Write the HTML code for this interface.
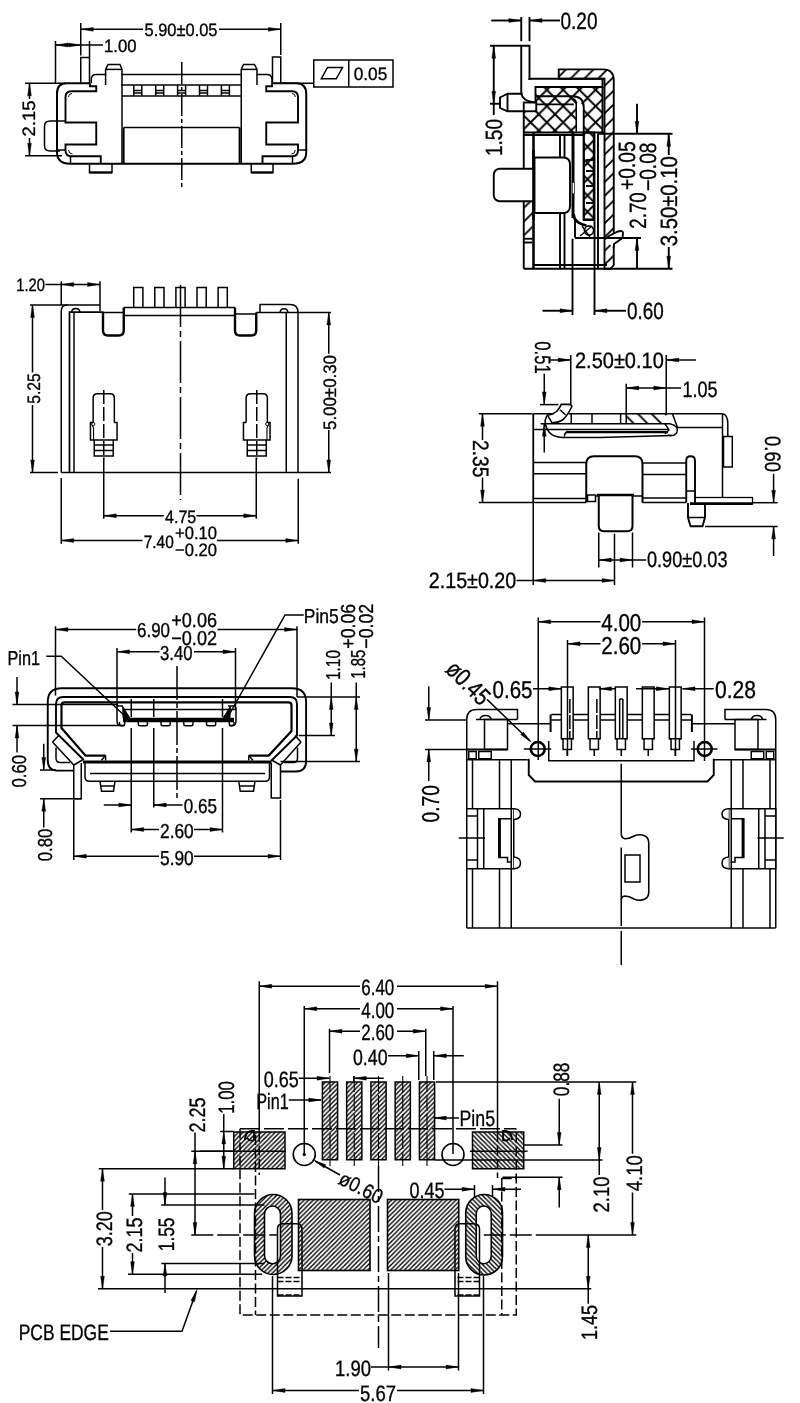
<!DOCTYPE html>
<html><head><meta charset="utf-8"><title>Micro USB connector drawing</title>
<style>
html,body{margin:0;padding:0;background:#fff;overflow:hidden}
svg{display:block}
svg *{vector-effect:none}
.g{font-size:18px;fill:none;stroke:#000;stroke-width:1.5;stroke-linecap:butt;stroke-linejoin:miter}
.g text{text-rendering:geometricPrecision;fill:#000;stroke:#000;stroke-width:.35;font-family:"Liberation Sans",sans-serif}
.g .a{fill:#000;stroke:#000;stroke-width:.4}
</style></head><body>
<svg width="800" height="1403" viewBox="0 0 800 1403">
<defs>
<pattern id="h1" width="13.75" height="13.75" patternUnits="userSpaceOnUse" patternTransform="translate(3 0)"><path d="M-1,14.75 L14.75,-1 M-1,1 L1,-1 M12.75,14.75 L14.75,12.75" stroke="#000" stroke-width="1.9" fill="none"/></pattern>
<pattern id="h1b" width="13.75" height="13.75" patternUnits="userSpaceOnUse" patternTransform="translate(4 0)"><path d="M-1,-1 L14.75,14.75 M-1,12.75 L1,14.75 M12.75,-1 L14.75,1" stroke="#000" stroke-width="1.9" fill="none"/></pattern>
<pattern id="h2" width="16.25" height="16.25" patternUnits="userSpaceOnUse" patternTransform="translate(2.5 0.5)"><path d="M-1,17.25 L17.25,-1 M-1,-1 L17.25,17.25" stroke="#000" stroke-width="1.9" fill="none"/></pattern>

<pattern id="h3" width="4.6" height="4.6" patternUnits="userSpaceOnUse"><path d="M-1,5.6 L5.6,-1 M-1,1 L1,-1 M3.6,5.6 L5.6,3.6" stroke="#000" stroke-width="1.4" fill="none"/></pattern>
<pattern id="h3b" width="4.6" height="4.6" patternUnits="userSpaceOnUse"><path d="M-1,-1 L5.6,5.6 M-1,3.6 L1,5.6 M3.6,-1 L5.6,1" stroke="#000" stroke-width="1.4" fill="none"/></pattern>
</defs>
<rect width="800" height="1403" fill="#fff"/>
<g class="g" opacity="0.999">
<polyline points="80.75,23 80.75,55.6"/>
<polyline points="280.75,23 280.75,55"/>
<polyline points="81,29.3 143,29.3"/>
<polyline points="219,29.3 280.5,29.3"/>
<polygon class="a" points="80.75,29.3 93.25,27.40 93.25,31.20"/>
<polygon class="a" points="280.75,29.3 268.25,31.20 268.25,27.40"/>
<text x="144.5" y="35.5" textLength="73" lengthAdjust="spacingAndGlyphs">5.90±0.05</text>
<polyline points="55.5,41 55.5,83"/>
<polyline points="89.5,41 89.5,57"/>
<polyline points="55.5,45 103,45"/>
<polygon class="a" points="55.5,45 68.00,43.10 68.00,46.90"/>
<polygon class="a" points="81,45 68.50,46.90 68.50,43.10"/>
<text x="104" y="51.7" textLength="32.5" lengthAdjust="spacingAndGlyphs">1.00</text>
<polyline points="25,83.25 66,83.25"/>
<polyline points="25,155.75 62,155.75"/>
<polyline points="29.5,83.25 29.5,99"/>
<polyline points="29.5,138 29.5,155.75"/>
<polygon class="a" points="29.5,83.25 31.40,95.75 27.60,95.75"/>
<polygon class="a" points="29.5,155.75 27.60,143.25 31.40,143.25"/>
<text transform="translate(35 136.5) rotate(-90)" textLength="36" lengthAdjust="spacingAndGlyphs">2.15</text>
<polyline points="80.75,83.25 80.75,57.5 89.5,57.5 89.5,83.25"/>
<polyline points="272.5,83.25 272.5,57 280.75,57 280.75,83.25"/>
<path d="M90,83.25 H67 Q57,83.25 57,93.25 V152 Q57,163.75 70,163.75 H293 Q306.25,163.75 306.25,152 V94 Q306.25,83.25 296,83.25 H272" stroke-width="2"/>
<path d="M90,83.25 V86.25 H96.25 V91.25 H71.5 Q65.5,91.25 65.5,97 V122.5 H96.25 V144.5 H65.5 V150.5 Q65.5,156.25 71.5,156.25 H100.75 V163.75" stroke-width="1.9"/>
<path d="M68.5,97 Q68.5,93.5 72,93.5 M68.5,150 Q69,154 72.5,154" stroke-width="1"/>
<polyline points="57,150 65.5,150"/>
<polyline points="70.5,156.25 70.5,163.75"/>
<path d="M65.5,121 H50 Q44.5,121 44.5,126.5 V145.5 Q44.5,151 50,151 H60"/>
<path d="M91.25,83.25 V79.5 Q91.25,74.5 96.25,74.5 H106.25 M121.25,74.5 H241.75 M256.5,74.5 H267 Q272,74.5 272,79.5 V83.25"/>
<polyline points="105.6,85 105.6,69.4 108,64.5 120,64.5 122,69.4 122,85"/>
<polyline points="105.6,69.4 122,69.4"/>
<polyline points="241.25,85 241.25,69.4 243.5,64.5 254.5,64.5 257,69.4 257,85"/>
<polyline points="241.25,69.4 257,69.4"/>
<polyline points="121.25,85 241.75,85"/>
<polyline points="122,96 241.25,96"/>
<polyline points="122,85 122,163.75"/>
<polyline points="241.25,85 241.25,163.75"/>
<polyline points="123.6,127.5 123.6,163.75" stroke-width="2"/>
<polyline points="239.6,127.5 239.6,163.75" stroke-width="2"/>
<polyline points="123.6,127.5 239.6,127.5"/>
<polyline points="133.8,85 133.8,95.75"/>
<polyline points="141.8,85 141.8,95.75"/>
<polyline points="133.8,90.5 141.8,90.5"/>
<polyline points="133.8,93 141.8,93"/>
<polyline points="155.7,85 155.7,95.75"/>
<polyline points="163.7,85 163.7,95.75"/>
<polyline points="155.7,90.5 163.7,90.5"/>
<polyline points="155.7,93 163.7,93"/>
<polyline points="177.6,85 177.6,95.75"/>
<polyline points="185.6,85 185.6,95.75"/>
<polyline points="177.6,90.5 185.6,90.5"/>
<polyline points="177.6,93 185.6,93"/>
<polyline points="199.5,85 199.5,95.75"/>
<polyline points="207.5,85 207.5,95.75"/>
<polyline points="199.5,90.5 207.5,90.5"/>
<polyline points="199.5,93 207.5,93"/>
<polyline points="221.4,85 221.4,95.75"/>
<polyline points="229.4,85 229.4,95.75"/>
<polyline points="221.4,90.5 229.4,90.5"/>
<polyline points="221.4,93 229.4,93"/>
<path d="M272,83.25 V86.25 H266.25 V91.25 H292 Q298,91.25 298,97 V122.5 H266.25 V144.5 H298 V150.5 Q298,156.25 292,156.25 H262.5 V163.75" stroke-width="1.9"/>
<path d="M295.3,97 Q295.3,93.5 292,93.5 M295.3,150 Q295,154 291.5,154" stroke-width="1"/>
<polyline points="298,150 306.25,150"/>
<polyline points="292.5,156.25 292.5,163.75"/>
<polyline points="89.5,163.75 89.5,172.5 112,172.5 112,163.75"/>
<polyline points="89.5,172.5 112,172.5" stroke-width="2.2"/>
<polyline points="251.25,163.75 251.25,172.5 273,172.5 273,163.75"/>
<polyline points="251.25,172.5 273,172.5" stroke-width="2.2"/>
<polyline points="181.75,62 181.75,188" stroke-dasharray="22 3 4 3"/>
<polyline points="280.75,83.25 313.75,83.25"/>
<rect x="313.75" y="60" width="79.25" height="27"/>
<polyline points="348.75,60 348.75,87"/>
<polygon points="321.25,78.75 327.5,67.5 342.5,67.5 336.25,78.75"/>
<text x="353.75" y="80" textLength="33.5" lengthAdjust="spacingAndGlyphs">0.05</text>
<g stroke-width="1.9">
<polyline points="521.25,17 521.25,41.25"/>
<polyline points="529.5,17 529.5,41.25"/>
<polyline points="491.25,20.5 521.25,20.5"/>
<polyline points="529.5,20.5 560,20.5"/>
<polygon class="a" points="521.25,20.5 508.75,22.40 508.75,18.60"/>
<polygon class="a" points="529.5,20.5 542.00,18.60 542.00,22.40"/>
<text x="560.5" y="28.7" font-size="23.5" textLength="37" lengthAdjust="spacingAndGlyphs">0.20</text>
<polyline points="490,45.75 521.25,45.75"/>
<polyline points="490,103.75 501,103.75"/>
<polyline points="493.75,45.75 493.75,115"/>
<polygon class="a" points="493.75,45.75 495.65,58.25 491.85,58.25"/>
<polygon class="a" points="493.75,103.75 491.85,91.25 495.65,91.25"/>
<text transform="translate(502.2 156) rotate(-90)" font-size="23.5" textLength="37" lengthAdjust="spacingAndGlyphs">1.50</text>
<path d="M521.25,94 V45.75 H529.5 V80"/>
<path d="M521.25,93 Q522,101 535,102.5"/>
<polyline points="522.5,93.75 507.5,93.75 500,97.5 500,108 507.5,111.25 523.75,111.25"/>
<polyline points="507.5,93.75 507.5,111.25"/>
<rect x="523.75" y="102.5" width="12.5" height="8.75"/>
<path d="M558.75,78.75 V69.4 H603 Q613.75,69.4 613.75,80 V265 L610.5,268.75 H604.5 V78.75 Z" fill="url(#h1)"/>
<polyline points="529.5,80 529.5,78.75 604.5,78.75" stroke-width="2"/>
<polyline points="535.5,102.5 535.5,87 602.5,87 602.5,78.75"/>
<path d="M535.5,87 H602.5 V132.5 H523.75 V111.25 H535.5 Z" stroke-width="0.01" fill="url(#h2)"/>
<path d="M576.25,104 Q581,100 583.75,108 V132.5 H576.25 Z" stroke-width="0.01" fill="#fff"/>
<path d="M536,96.25 H572.5 Q583.75,96.25 583.75,107.5 V220"/>
<path d="M536,104.4 H573.75 M573,98.75 Q576.25,99.5 576.25,104 V132.5" stroke-width="1.6"/>
<polyline points="523.75,111.25 523.75,268.75"/>
<polyline points="523.75,132.5 603.75,132.5"/>
<polyline points="523.75,135 585,135"/>
<polyline points="602.5,87 602.5,132.5"/>
<path d="M583.75,132.5 H593.75 V220 H583.75 Z" fill="url(#h2)"/>
<polyline points="586,160 593.75,160"/>
<polyline points="586,171 593.75,171"/>
<polyline points="586,186 593.75,186"/>
<polyline points="586,203 593.75,203"/>
<polyline points="533.5,132.5 533.5,268.75" stroke-width="2.6"/>
<polyline points="560,135 560,157.5"/>
<polyline points="564.5,135 564.5,157.5"/>
<polyline points="560,213 560,268.75"/>
<polyline points="564.5,213 564.5,268.75"/>
<polyline points="573,132.5 573,218" stroke-width="3"/>
<rect x="572.2" y="182.5" width="2.4" height="11.25" stroke-width="0.6" fill="#fff"/>
<path d="M573.5,214 Q574,223 586.5,225.5" stroke-width="2.8"/>
<polyline points="575,220 575,237.5"/>
<polyline points="584,219.4 594,219.4"/>
<circle cx="589" cy="230.5" r="4.6" stroke-width="1.6"/>
<path d="M582,226 L590,237 M580,236 L592,226" stroke-width="1.3"/>
<polyline points="594.5,133.75 594.5,315"/>
<polyline points="598,133.75 598,268.75"/>
<path d="M523.75,201 H532.5 V238.75 H523.75 Z" stroke-width="0.01" fill="url(#h1)"/>
<polyline points="523.75,238.75 532.5,238.75"/>
<polyline points="523.75,242.5 532.5,242.5"/>
<rect x="493.75" y="168.75" width="46.25" height="32.5" rx="6" fill="#fff"/>
<path d="M534.5,157.5 H563 Q570,157.5 570,164.5 V206 Q570,213 563,213 H534.5 Z" fill="#fff"/>
<polyline points="533.5,150 533.5,220" stroke-width="2.6"/>
<polyline points="523.75,268.75 610,268.75"/>
<polyline points="533.5,265 607,265"/>
<path d="M604.5,239.5 L609,236 L618,231.5 Q623,230 623,233 L622.5,238 L614,244 L613.5,248" fill="#fff"/>
<polyline points="598,133.75 672.5,133.75"/>
<polyline points="637,103.75 637,133.75"/>
<polygon class="a" points="637,133.75 635.10,121.25 638.90,121.25"/>
<polyline points="575,238 641,238"/>
<polyline points="637,238 637,268.75"/>
<polygon class="a" points="637,238 638.90,250.50 635.10,250.50"/>
<polyline points="610,268.75 672.5,268.75"/>
<polyline points="668.75,133.75 668.75,155"/>
<polygon class="a" points="668.75,133.75 670.65,146.25 666.85,146.25"/>
<polyline points="668.75,247 668.75,268.75"/>
<polygon class="a" points="668.75,268.75 666.85,256.25 670.65,256.25"/>
<text transform="translate(677.2 246.25) rotate(-90)" font-size="23.5" textLength="90" lengthAdjust="spacingAndGlyphs">3.50±0.10</text>
<text transform="translate(646.2 228.75) rotate(-90)" font-size="23.5" textLength="36.5" lengthAdjust="spacingAndGlyphs">2.70</text>
<text transform="translate(634.95 190) rotate(-90)" font-size="23.5" textLength="48.75" lengthAdjust="spacingAndGlyphs">+0.05</text>
<text transform="translate(656.2 191) rotate(-90)" font-size="23.5" textLength="48.5" lengthAdjust="spacingAndGlyphs">−0.08</text>
<polyline points="572.5,238.75 572.5,315"/>
<polyline points="542.5,310.75 572.5,310.75"/>
<polygon class="a" points="572.5,310.75 560.00,312.65 560.00,308.85"/>
<polyline points="594.5,310.75 626,310.75"/>
<polygon class="a" points="594.5,310.75 607.00,308.85 607.00,312.65"/>
<text x="627" y="319.2" font-size="23.5" textLength="36.75" lengthAdjust="spacingAndGlyphs">0.60</text>
</g>
<text x="16.25" y="291.25" textLength="28.75" lengthAdjust="spacingAndGlyphs">1.20</text>
<polyline points="45.5,284.5 100,284.5"/>
<polygon class="a" points="61.25,284.5 73.75,282.60 73.75,286.40"/>
<polygon class="a" points="100,284.5 87.50,286.40 87.50,282.60"/>
<polyline points="61.25,281.25 61.25,305"/>
<polyline points="100,281.25 100,311.25"/>
<polyline points="30,305 67.5,305"/>
<polyline points="32.5,305 32.5,372.5"/>
<polyline points="32.5,405 32.5,472.5"/>
<polygon class="a" points="32.5,305 34.40,317.50 30.60,317.50"/>
<polygon class="a" points="32.5,472.5 30.60,460.00 34.40,460.00"/>
<text transform="translate(40 403.75) rotate(-90)" textLength="30.5" lengthAdjust="spacingAndGlyphs">5.25</text>
<path d="M100,305 H67.5 Q61.25,305 61.25,311 V472.5"/>
<polyline points="69.5,472.5 69.5,312.2 103.5,312.2" stroke-width="1.8"/>
<path d="M71.5,312.2 Q72,308.5 75.75,308.5 Q79.5,308.5 80,312.2"/>
<polyline points="74,472.5 74,312.5"/>
<path d="M103,312.5 V330.5 Q103,335.5 108,335.5 H118.75 Q123.75,335.5 123.75,330.5 V307.5" stroke-width="2.4"/>
<polyline points="123.75,307.5 235,307.5"/>
<polyline points="103,312.5 123.75,312.5"/>
<polyline points="235,314 256.25,314"/>
<polyline points="124.5,315.5 235,315.5"/>
<path d="M235,307.5 V330.5 Q235,335.5 240,335.5 H251.25 Q256.25,335.5 256.25,330.5 V312.5" stroke-width="2.4"/>
<polyline points="256.25,312.5 331,312.5"/>
<path d="M260,312.5 V304.5 H290 Q298,304.5 298,312.5 V472.5"/>
<path d="M280,312.5 Q280.5,308.75 284,308.75 Q287.5,308.75 288,312.5"/>
<polyline points="286.25,312.5 286.25,472.5"/>
<polyline points="133.7,307.5 133.7,287.5 142.9,287.5 142.9,307.5"/>
<polyline points="154.8,307.5 154.8,287.5 164,287.5 164,307.5"/>
<polyline points="175.9,307.5 175.9,287.5 185.1,287.5 185.1,307.5"/>
<polyline points="197,307.5 197,287.5 206.2,287.5 206.2,307.5"/>
<polyline points="218.1,307.5 218.1,287.5 227.3,287.5 227.3,307.5"/>
<polyline points="180.5,285 180.5,500" stroke-dasharray="42 4 6 4"/>
<polyline points="30,472.5 58,472.5"/>
<polyline points="61.25,472.5 331,472.5"/>
<path d="M93.15,422.5 V398 Q93.15,393.75 97.35,393.75 H110.15 Q114.35,393.75 114.35,398 V422.5"/>
<polyline points="93.15,422.5 90.45,422.5 90.45,440 117.05,440 117.05,422.5 114.35,422.5"/>
<polyline points="94.25,440 94.25,456 113.25,456 113.25,440"/>
<polyline points="94.25,445 113.25,445"/>
<polyline points="94.25,450.5 113.25,450.5"/>
<polyline points="103.75,390 103.75,459" stroke-dasharray="14 3"/>
<polyline points="93.55,440 93.55,428 92.05,425" stroke-width="1.1"/>
<circle cx="93.25" cy="424" r="1.6" stroke-width="1"/>
<path d="M246.15,422.5 V398 Q246.15,393.75 250.35,393.75 H263.15 Q267.35,393.75 267.35,398 V422.5"/>
<polyline points="246.15,422.5 243.45,422.5 243.45,440 270.05,440 270.05,422.5 267.35,422.5"/>
<polyline points="247.25,440 247.25,456 266.25,456 266.25,440"/>
<polyline points="247.25,445 266.25,445"/>
<polyline points="247.25,450.5 266.25,450.5"/>
<polyline points="256.75,390 256.75,459" stroke-dasharray="14 3"/>
<polyline points="266.95,440 266.95,428 268.45,425" stroke-width="1.1"/>
<circle cx="267.25" cy="424" r="1.6" stroke-width="1"/>
<polyline points="103.75,457.5 103.75,518.75"/>
<polyline points="256.25,457.5 256.25,518.75"/>
<polyline points="103.75,515.75 163.75,515.75"/>
<polyline points="196.5,515.75 256.25,515.75"/>
<polygon class="a" points="103.75,515.75 116.25,513.85 116.25,517.65"/>
<polygon class="a" points="256.25,515.75 243.75,517.65 243.75,513.85"/>
<text x="165" y="522.5" textLength="31.25" lengthAdjust="spacingAndGlyphs">4.75</text>
<polyline points="61.25,478 61.25,543.75"/>
<polyline points="298.25,478.75 298.25,543.75"/>
<polyline points="61.25,540.5 142.5,540.5"/>
<polyline points="217,540.5 298.25,540.5"/>
<polygon class="a" points="61.25,540.5 73.75,538.60 73.75,542.40"/>
<polygon class="a" points="298.25,540.5 285.75,542.40 285.75,538.60"/>
<text x="143.75" y="547.5" textLength="30" lengthAdjust="spacingAndGlyphs">7.40</text>
<text x="175" y="538.75" textLength="42" lengthAdjust="spacingAndGlyphs">+0.10</text>
<text x="175" y="555.5" textLength="42" lengthAdjust="spacingAndGlyphs">−0.20</text>
<polyline points="328.75,312.5 328.75,353.75"/>
<polyline points="328.75,430 328.75,472.5"/>
<polygon class="a" points="328.75,312.5 330.65,325.00 326.85,325.00"/>
<polygon class="a" points="328.75,472.5 326.85,460.00 330.65,460.00"/>
<text transform="translate(336 430) rotate(-90)" textLength="75" lengthAdjust="spacingAndGlyphs">5.00±0.30</text>
<text transform="translate(535.2 341.25) rotate(90)" font-size="22.3" textLength="32.5" lengthAdjust="spacingAndGlyphs">0.51</text>
<polyline points="544.25,373.75 544.25,403.75"/>
<polygon class="a" points="544.25,404.4 542.35,391.90 546.15,391.90"/>
<polyline points="544.25,423.75 544.25,452.5"/>
<polygon class="a" points="544.25,423.75 546.15,436.25 542.35,436.25"/>
<polyline points="540,404.6 558.5,404.6"/>
<polyline points="570.75,355 570.75,405"/>
<polyline points="550,360 570.75,360"/>
<polygon class="a" points="570.75,360 558.25,361.90 558.25,358.10"/>
<text x="575" y="367.8" font-size="22.3" textLength="88.75" lengthAdjust="spacingAndGlyphs">2.50±0.10</text>
<polyline points="666.25,355 666.25,415"/>
<polyline points="666.25,360 696,360"/>
<polygon class="a" points="666.25,360 678.75,358.10 678.75,361.90"/>
<polyline points="626.25,383.75 626.25,413.75"/>
<polyline points="626.25,388 681,388"/>
<polygon class="a" points="626.25,388 638.75,386.10 638.75,389.90"/>
<polygon class="a" points="666.25,388 653.75,389.90 653.75,386.10"/>
<text x="682.5" y="396.55" font-size="22.3" textLength="35" lengthAdjust="spacingAndGlyphs">1.05</text>
<polyline points="478.75,413.75 532.5,413.75"/>
<polyline points="478.75,502.5 533,502.5"/>
<polyline points="482.5,413.75 482.5,440"/>
<polyline points="482.5,477.5 482.5,502.5"/>
<polygon class="a" points="482.5,413.75 484.40,426.25 480.60,426.25"/>
<polygon class="a" points="482.5,502.5 480.60,490.00 484.40,490.00"/>
<text transform="translate(472.7 440) rotate(90)" font-size="22.3" textLength="37.5" lengthAdjust="spacingAndGlyphs">2.35</text>
<polyline points="533.25,413.75 533.25,502.5" stroke-width="1.8"/>
<polyline points="533.25,502.5 533.25,585"/>
<polyline points="533.25,413.75 553.5,413.75"/>
<polyline points="568.5,413.75 722.5,413.75"/>
<path d="M722.5,413.75 Q727.8,414.5 727.8,424 V436.5"/>
<polyline points="722.5,413.75 722.5,497.5"/>
<rect x="723.5" y="436.5" width="8.8" height="30.5"/>
<polyline points="540.6,423.75 670,423.75"/>
<polyline points="571.25,413.75 571.25,423.75"/>
<polyline points="592,413.75 592,423.75"/>
<polyline points="620.6,413.75 620.6,423.75"/>
<polyline points="626.25,413.75 626.25,423.75"/>
<path d="M626.25,413.75 H666.25 V423.75 H626.25 Z" fill="url(#h1b)" stroke="none"/>
<path d="M561.25,404.4 Q559.5,408.5 556.5,411.5 Q553,414.5 547.5,415.2 L552,422.8 Q558,423 562.5,420 Q567,416.5 571.9,406.5 Q571.5,404.4 568.5,404.4 Z" stroke-width="1.6"/>
<polyline points="560,409.7 565.6,415"/>
<path d="M546.9,415.6 Q544.5,420 545.3,423.75 Q546,428 549,432 Q553,437 562.5,437.5 H600 L672,435.5" stroke-width="1.6"/>
<polyline points="533.25,429.4 668,429.4"/>
<polyline points="566,432.2 668,432.2" stroke-width="2.2"/>
<path d="M568,431.3 Q564.5,432.5 564.4,436.5"/>
<path d="M670,423.75 Q679,426 677,432 Q675,437 668,435"/>
<path d="M672.5,414 L677.5,427.5 H722.5"/>
<path d="M665,423.75 L669,430 L665,434"/>
<polyline points="533.25,462.5 586.25,462.5"/>
<polyline points="533.25,473.75 586.25,473.75"/>
<polyline points="533.25,498.5 586.25,498.5"/>
<polyline points="533.25,502.5 586.25,502.5"/>
<path d="M586.25,502.5 V464 Q586.25,456.25 594,456.25 H635 Q642.5,456.25 642.5,464 V502.5" stroke-width="2" fill="#fff"/>
<rect x="587.5" y="495" width="8" height="6.5"/>
<polyline points="642.5,463 686.25,463"/>
<polyline points="642.5,474.5 686.25,474.5"/>
<polyline points="642.5,498 686.25,498"/>
<polyline points="642.5,502.5 686.25,502.5"/>
<polyline points="596,496 642,496"/>
<path d="M686.25,502.5 V460.5 Q686.25,456.25 690.5,456.25 Q695,456.25 695,460.5 V502.5" stroke-width="1.9"/>
<polyline points="686.25,491 695,491"/>
<rect x="695" y="497.5" width="57.5" height="6.5" stroke-width="1.3"/>
<polyline points="690,503.6 752.5,503.6" stroke-width="2.6"/>
<path d="M598.75,495 V526 Q598.75,531.25 604,531.25 H627 Q632.5,531.25 632.5,526 V495" stroke-width="2" fill="#fff"/>
<polyline points="597,495 634,495" stroke-width="2.4"/>
<polyline points="688,503 688,517.5 690.5,526.25 702.5,526.25 705,517.5 705,503" stroke-width="1.9"/>
<polyline points="688,517.5 705,517.5"/>
<polyline points="752.5,502.7 777.7,502.7"/>
<polyline points="705,526.4 777.7,526.4"/>
<polyline points="773.6,473.8 773.6,502.7"/>
<polygon class="a" points="773.6,502.7 771.70,490.20 775.50,490.20"/>
<polyline points="773.6,526.4 773.6,556"/>
<polygon class="a" points="773.6,526.4 775.50,538.90 771.70,538.90"/>
<text transform="translate(765.2 436) rotate(90)" font-size="22.3" textLength="36" lengthAdjust="spacingAndGlyphs">0.60</text>
<polyline points="598.75,532.5 598.75,567.5"/>
<polyline points="632.5,532.5 632.5,567.5"/>
<polyline points="598.75,560 646.25,560"/>
<polygon class="a" points="598.75,560 611.25,558.10 611.25,561.90"/>
<polygon class="a" points="632.5,560 620.00,561.90 620.00,558.10"/>
<text x="647" y="567.3" font-size="22.3" textLength="80.5" lengthAdjust="spacingAndGlyphs">0.90±0.03</text>
<text x="428.75" y="588.3" font-size="22.3" textLength="87.5" lengthAdjust="spacingAndGlyphs">2.15±0.20</text>
<polyline points="516.5,580.5 613.75,580.5"/>
<polygon class="a" points="533.25,580.5 545.75,578.60 545.75,582.40"/>
<polygon class="a" points="614.5,580.5 602.00,582.40 602.00,578.60"/>
<polyline points="614.5,533.75 614.5,585"/>
<polyline points="55.5,626.25 55.5,695.6"/>
<polyline points="297,626.25 297,697"/>
<polyline points="55.5,629.5 136.25,629.5"/>
<polyline points="217.5,629.5 297,629.5"/>
<polygon class="a" points="55.5,629.5 68.00,627.60 68.00,631.40"/>
<polygon class="a" points="297,629.5 284.50,631.40 284.50,627.60"/>
<text x="137" y="637.05" font-size="20.2" textLength="33" lengthAdjust="spacingAndGlyphs">6.90</text>
<text x="171.25" y="627.05" font-size="20.2" textLength="45.75" lengthAdjust="spacingAndGlyphs">+0.06</text>
<text x="171.25" y="645.3" font-size="20.2" textLength="45.75" lengthAdjust="spacingAndGlyphs">−0.02</text>
<polyline points="117,648 117,706"/>
<polyline points="235.5,648 235.5,710"/>
<polyline points="117,651.75 159.5,651.75"/>
<polyline points="194,651.75 235.5,651.75"/>
<polygon class="a" points="117,651.75 129.50,649.85 129.50,653.65"/>
<polygon class="a" points="235.5,651.75 223.00,653.65 223.00,649.85"/>
<text x="160" y="659.55" font-size="20.2" textLength="32.5" lengthAdjust="spacingAndGlyphs">3.40</text>
<text x="7.5" y="665.3" font-size="20.2" textLength="32.5" lengthAdjust="spacingAndGlyphs">Pin1</text>
<polyline points="46.25,656.25 61.25,656.25 127,718"/>
<text x="303.75" y="623.3" font-size="20.2" textLength="35" lengthAdjust="spacingAndGlyphs">Pin5</text>
<polyline points="303.75,615 285,615 226.25,720"/>
<polyline points="17,677 17,704.4"/>
<polygon class="a" points="17,704.4 15.10,691.90 18.90,691.90"/>
<polyline points="12.5,704.4 118,704.4"/>
<polyline points="12.5,725.6 123,725.6"/>
<polyline points="17,725.6 17,752.5"/>
<polygon class="a" points="17,725.6 18.90,738.10 15.10,738.10"/>
<text transform="translate(25.8 787.5) rotate(-90)" font-size="20.2" textLength="32.5" lengthAdjust="spacingAndGlyphs">0.60</text>
<polyline points="43.75,743.75 43.75,770"/>
<polygon class="a" points="43.75,770 41.85,757.50 45.65,757.50"/>
<polyline points="40,770 56,770"/>
<polyline points="40,798.75 81.25,798.75"/>
<polyline points="43.75,798.75 43.75,827.5"/>
<polygon class="a" points="43.75,798.75 45.65,811.25 41.85,811.25"/>
<text transform="translate(52.05 861.25) rotate(-90)" font-size="20.2" textLength="32.5" lengthAdjust="spacingAndGlyphs">0.80</text>
<path d="M73.75,770.6 H57 Q47.75,770.6 47.75,760 V702 Q47.75,688.3 61.5,688.3 H292 Q306.1,688.3 306.1,702 V761 Q306.1,771.5 296,771.5 H280.5" stroke-width="1.9"/>
<path d="M83.75,760 L56,732.5 V704 Q56,697 63,697 H290 Q297,697 297,704 V735.5 L271,761" stroke-width="1.9"/>
<path d="M105.6,755.6 H85.6 L61.5,728 V705.5 Q61.5,702.4 64.5,702.4 H288.5 Q291.5,702.4 291.5,705.5 V731 L268.75,755.6 H248.75" stroke-width="2.2"/>
<polyline points="52.5,742 73.75,765"/>
<polyline points="52.5,742 58.75,735.5"/>
<polyline points="73.75,765 82.5,760"/>
<polyline points="301,742 280.5,765"/>
<polyline points="301,742 295,735.5"/>
<polyline points="280.5,765 271.5,760"/>
<polyline points="105.6,755.6 105.6,760.5"/>
<polyline points="105.6,755.6 101.25,760.5"/>
<polyline points="248.75,755.6 248.75,760.5"/>
<polyline points="248.75,755.6 253,760.5"/>
<path d="M56,747.5 V758 Q56,762.5 60,762.5 H70"/>
<path d="M297.5,747.5 V758 Q297.5,762.5 293.5,762.5 H284"/>
<polyline points="83,762 271.5,762" stroke-width="3"/>
<path d="M85,763 V777 Q85,781.25 89.5,781.25 H265 Q269.5,781.25 269.5,777 V763"/>
<polyline points="90,773.5 265,773.5"/>
<polyline points="100,781.25 101.5,791.25 113.5,791.25 115,781.25"/>
<polyline points="101,786 114,786"/>
<polyline points="238.75,781.25 240.25,791.25 253.5,791.25 255,781.25"/>
<polyline points="240,786 254,786"/>
<polyline points="73.75,765 73.75,798.75 81.25,798.75 81.25,763"/>
<polyline points="271.25,763 271.25,798 280.5,798 280.5,765"/>
<path d="M123,706 H117 V721 Q117,725.6 121,725.6 H124"/>
<path d="M122.5,706 L130,718 H123 Z" stroke-width="0.8" fill="#000"/>
<path d="M230.5,706 L223,718 H230 Z" stroke-width="0.8" fill="#000"/>
<polyline points="123,709.4 236,709.4"/>
<polyline points="123,720 234,720" stroke-width="4.6"/>
<path d="M236,707.5 V721 Q236,725.6 232,725.6 H229"/>
<polyline points="228,706 236,706"/>
<path d="M119.5,722 V724 Q119.5,725.8 121.3,725.8 H122.925 Q124.725,725.8 124.725,724 V722" stroke-width="1.4"/>
<path d="M138.275,722 V724 Q138.275,725.8 140.075,725.8 H145.675 Q147.475,725.8 147.475,724 V722" stroke-width="1.4"/>
<path d="M161.025,722 V724 Q161.025,725.8 162.825,725.8 H168.425 Q170.225,725.8 170.225,724 V722" stroke-width="1.4"/>
<path d="M183.775,722 V724 Q183.775,725.8 185.575,725.8 H191.175 Q192.975,725.8 192.975,724 V722" stroke-width="1.4"/>
<path d="M206.525,722 V724 Q206.525,725.8 208.325,725.8 H213.925 Q215.725,725.8 215.725,724 V722" stroke-width="1.4"/>
<path d="M229.275,722 V724 Q229.275,725.8 231.075,725.8 H232.2 Q234,725.8 234,724 V722" stroke-width="1.4"/>
<polyline points="131.25,699 131.25,717"/>
<polyline points="131.25,728 131.25,832.5"/>
<polyline points="222.5,699 222.5,717"/>
<polyline points="222.5,728 222.5,832.5"/>
<polyline points="153.75,699 153.75,717"/>
<polyline points="153.75,728 153.75,807.5"/>
<polyline points="177,666 177,800" stroke-dasharray="34 3 5 3"/>
<polyline points="297,697 360,697"/>
<polyline points="298.75,735.5 335,735.5"/>
<polyline points="331.25,682.5 331.25,735.5"/>
<polygon class="a" points="331.25,697 333.15,709.50 329.35,709.50"/>
<polygon class="a" points="331.25,735.5 329.35,723.00 333.15,723.00"/>
<text transform="translate(339.55 680) rotate(-90)" font-size="20.2" textLength="30" lengthAdjust="spacingAndGlyphs">1.10</text>
<polyline points="280.5,761.5 360,761.5"/>
<polyline points="356.25,682.5 356.25,761.5"/>
<polygon class="a" points="356.25,697 358.15,709.50 354.35,709.50"/>
<polygon class="a" points="356.25,761.5 354.35,749.00 358.15,749.00"/>
<text transform="translate(364.55 678.75) rotate(-90)" font-size="20.2" textLength="29" lengthAdjust="spacingAndGlyphs">1.85</text>
<text transform="translate(354.55 648.75) rotate(-90)" font-size="20.2" textLength="45" lengthAdjust="spacingAndGlyphs">+0.06</text>
<text transform="translate(372.8 648.75) rotate(-90)" font-size="20.2" textLength="45" lengthAdjust="spacingAndGlyphs">−0.02</text>
<polyline points="103.75,805 131.25,805"/>
<polygon class="a" points="131.25,805 118.75,806.90 118.75,803.10"/>
<polyline points="153.75,805 182.5,805"/>
<polygon class="a" points="153.75,805 166.25,803.10 166.25,806.90"/>
<text x="183.75" y="812.8" font-size="20.2" textLength="33.25" lengthAdjust="spacingAndGlyphs">0.65</text>
<polyline points="131.25,829.5 159,829.5"/>
<polyline points="194,829.5 222.5,829.5"/>
<polygon class="a" points="131.25,829.5 143.75,827.60 143.75,831.40"/>
<polygon class="a" points="222.5,829.5 210.00,831.40 210.00,827.60"/>
<text x="160" y="837.8" font-size="20.2" textLength="33.75" lengthAdjust="spacingAndGlyphs">2.60</text>
<polyline points="73.75,800 73.75,860"/>
<polyline points="280.5,800 280.5,860"/>
<polyline points="73.75,856.25 159,856.25"/>
<polyline points="194,856.25 280.5,856.25"/>
<polygon class="a" points="73.75,856.25 86.25,854.35 86.25,858.15"/>
<polygon class="a" points="280.5,856.25 268.00,858.15 268.00,854.35"/>
<text x="160" y="864.55" font-size="20.2" textLength="33.75" lengthAdjust="spacingAndGlyphs">5.90</text>
<polyline points="538.25,617.5 538.25,760"/>
<polyline points="704.5,617.5 704.5,761"/>
<polyline points="538.25,621.75 600.5,621.75"/>
<polyline points="642,621.75 704.5,621.75"/>
<polygon class="a" points="538.25,621.75 550.75,619.85 550.75,623.65"/>
<polygon class="a" points="704.5,621.75 692.00,623.65 692.00,619.85"/>
<text x="601.25" y="630.5" font-size="24.5" textLength="40" lengthAdjust="spacingAndGlyphs">4.00</text>
<polyline points="567.5,640 567.5,756"/>
<polyline points="675.5,640 675.5,756"/>
<polyline points="567.5,643.75 600.5,643.75"/>
<polyline points="642,643.75 675.5,643.75"/>
<polygon class="a" points="567.5,643.75 580.00,641.85 580.00,645.65"/>
<polygon class="a" points="675.5,643.75 663.00,645.65 663.00,641.85"/>
<text x="601.25" y="653.5" font-size="24.5" textLength="40" lengthAdjust="spacingAndGlyphs">2.60</text>
<text x="492.5" y="698" font-size="24.5" textLength="40" lengthAdjust="spacingAndGlyphs">0.65</text>
<polyline points="533,688.75 561.25,688.75"/>
<polygon class="a" points="561.25,688.75 548.75,690.65 548.75,686.85"/>
<polygon class="a" points="599,688.75 611.50,686.85 611.50,690.65"/>
<polyline points="599,688.75 615.5,688.75"/>
<polyline points="636,688.75 668.75,688.75"/>
<polygon class="a" points="668.75,688.75 656.25,690.65 656.25,686.85"/>
<polygon class="a" points="682.5,688.75 695.00,686.85 695.00,690.65"/>
<polyline points="682.5,688.75 713.75,688.75"/>
<text x="715" y="698" font-size="24.5" textLength="41" lengthAdjust="spacingAndGlyphs">0.28</text>
<text transform="translate(444.293 670.707) rotate(45)" font-size="24.5" textLength="51" lengthAdjust="spacingAndGlyphs">ø0.45</text>
<polyline points="487,699.4 530,741"/>
<polygon class="a" points="531,742 520.69,734.68 523.33,731.95"/>
<circle cx="537.75" cy="749" r="7" stroke-width="2.6"/>
<circle cx="704.75" cy="749" r="7" stroke-width="2.6"/>
<polyline points="523.75,749 551.25,749"/>
<polyline points="691,749 717.5,749"/>
<polygon points="563.05,749.5 563.05,738.75 561.35,738.75 561.35,687 573.15,687 573.15,738.75 571.45,738.75 571.45,749.5"/>
<polyline points="561.35,738.75 573.15,738.75"/>
<polyline points="569.85,699 569.85,738" stroke-dasharray="14 2"/>
<polyline points="567.25,749.5 567.25,756"/>
<polygon points="590.05,749.5 590.05,738.75 588.35,738.75 588.35,687 600.15,687 600.15,738.75 598.45,738.75 598.45,749.5"/>
<polyline points="588.35,738.75 600.15,738.75"/>
<polyline points="596.85,699 596.85,738" stroke-dasharray="14 2"/>
<polyline points="594.25,749.5 594.25,756"/>
<polygon points="617.05,749.5 617.05,738.75 615.35,738.75 615.35,687 627.15,687 627.15,738.75 625.45,738.75 625.45,749.5"/>
<polyline points="615.35,738.75 627.15,738.75"/>
<polyline points="619.65,699 619.65,738"/>
<polyline points="622.85,699 622.85,738"/>
<polyline points="619.65,699 622.85,699"/>
<polyline points="621.25,749.5 621.25,756"/>
<polygon points="644.05,749.5 644.05,738.75 642.35,738.75 642.35,687 654.15,687 654.15,738.75 652.45,738.75 652.45,749.5"/>
<polyline points="642.35,738.75 654.15,738.75"/>
<polyline points="648.25,749.5 648.25,756"/>
<polygon points="671.05,749.5 671.05,738.75 669.35,738.75 669.35,687 681.15,687 681.15,738.75 679.45,738.75 679.45,749.5"/>
<polyline points="669.35,738.75 681.15,738.75"/>
<polyline points="675.25,749.5 675.25,756"/>
<polyline points="551.25,714.5 561.35,714.5"/>
<polyline points="573.15,714.5 588.35,714.5"/>
<polyline points="600.15,714.5 615.35,714.5"/>
<polyline points="627.15,714.5 642.35,714.5"/>
<polyline points="654.15,714.5 669.35,714.5"/>
<polyline points="681.15,714.5 691.25,714.5"/>
<polyline points="551.25,720 561.35,720"/>
<polyline points="573.15,720 588.35,720"/>
<polyline points="600.15,720 615.35,720"/>
<polyline points="627.15,720 642.35,720"/>
<polyline points="654.15,720 669.35,720"/>
<polyline points="681.15,720 691.25,720"/>
<polyline points="550.6,714.5 550.6,732" stroke-width="2"/>
<polyline points="691.9,714.5 691.9,732" stroke-width="2"/>
<polyline points="548.75,754 548.75,760.75 694,760.75 694,741"/>
<polyline points="548.75,741 548.75,754"/>
<polyline points="507.5,723.75 550,723.75"/>
<polyline points="692.5,723.75 735,723.75"/>
<path d="M466.75,928 V719.5 Q466.75,709.5 476.75,709.5 H517.5 V719.5"/>
<polyline points="476,719.5 517.5,719.5"/>
<rect x="484.5" y="719.5" width="23" height="30"/>
<path d="M480,719.5 Q480.5,715.5 485.5,715.5 Q490.5,715.5 491,719.5"/>
<polyline points="466.75,749.5 507.5,749.5" stroke-width="1.8"/>
<rect x="468.75" y="751.5" width="7.5" height="7.25"/>
<rect x="478.75" y="751.5" width="12.5" height="7.25"/>
<polyline points="466.75,759.75 527.5,759.75"/>
<path d="M527.5,759.75 H528.75 V775 L535,781.5 H621.25" stroke-width="1.9"/>
<polyline points="472.5,759.75 472.5,928"/>
<polyline points="499.5,759.75 499.5,928"/>
<polyline points="511.25,759.75 511.25,928"/>
<rect x="466.75" y="808.75" width="47" height="60" fill="#fff"/>
<path d="M513.75,808.75 Q520.5,809 520.5,814 Q520.5,819 513.75,819.5" fill="#fff"/>
<path d="M513.75,857 Q520.5,857.5 520.5,863 Q520.5,868.5 513.75,868.75" fill="#fff"/>
<polyline points="477.5,808.75 477.5,868.75"/>
<polyline points="483.75,808.75 483.75,868.75"/>
<polyline points="466.75,816 477.5,816"/>
<polyline points="466.75,860 477.5,860"/>
<polyline points="511.25,808.75 511.25,862 507.5,862 507.5,857.5 498.75,857.5 498.75,818.75 511.25,818.75"/>
<polyline points="499.6,818.75 499.6,857.5" stroke-width="2.6"/>
<polyline points="511.25,862 511.25,868.75"/>
<polyline points="458.75,838 485,838"/>
<path d="M775.75,928 V719.5 Q775.75,709.5 765.75,709.5 H725.0 V719.5"/>
<polyline points="766.5,719.5 725,719.5"/>
<rect x="735" y="719.5" width="23" height="30"/>
<path d="M762.5,719.5 Q762.0,715.5 757.0,715.5 Q752.0,715.5 751.5,719.5"/>
<polyline points="775.75,749.5 735,749.5" stroke-width="1.8"/>
<rect x="766.25" y="751.5" width="7.5" height="7.25"/>
<rect x="751.25" y="751.5" width="12.5" height="7.25"/>
<polyline points="775.75,759.75 715,759.75"/>
<path d="M715.0,759.75 H713.75 V775 L707.5,781.5 H621.25" stroke-width="1.9"/>
<polyline points="770,759.75 770,928"/>
<polyline points="743,759.75 743,928"/>
<polyline points="731.25,759.75 731.25,928"/>
<rect x="728.75" y="808.75" width="47" height="60" fill="#fff"/>
<path d="M728.75,808.75 Q722.0,809 722.0,814 Q722.0,819 728.75,819.5" fill="#fff"/>
<path d="M728.75,857 Q722.0,857.5 722.0,863 Q722.0,868.5 728.75,868.75" fill="#fff"/>
<polyline points="765,808.75 765,868.75"/>
<polyline points="758.75,808.75 758.75,868.75"/>
<polyline points="775.75,816 765,816"/>
<polyline points="775.75,860 765,860"/>
<polyline points="731.25,808.75 731.25,862 735,862 735,857.5 743.75,857.5 743.75,818.75 731.25,818.75"/>
<polyline points="742.9,818.75 742.9,857.5" stroke-width="2.6"/>
<polyline points="731.25,862 731.25,868.75"/>
<polyline points="783.75,838 757.5,838"/>
<polyline points="425,720 466.75,720"/>
<polyline points="425,749.5 466.75,749.5"/>
<polyline points="428.75,686.25 428.75,720"/>
<polygon class="a" points="428.75,720 426.85,707.50 430.65,707.50"/>
<polyline points="428.75,749.5 428.75,781"/>
<polygon class="a" points="428.75,749.5 430.65,762.00 426.85,762.00"/>
<text transform="translate(438.5 822.5) rotate(-90)" font-size="24.5" textLength="37.5" lengthAdjust="spacingAndGlyphs">0.70</text>
<polyline points="466.75,928 775.75,928"/>
<polyline points="621.25,763.75 621.25,833.75"/>
<path d="M621.25,833.75 Q621.25,838 625,838.75 Q629,839 634,836 Q640,833.5 645,836 Q648.75,838 648.75,843 V892 Q648.75,897 645,899 Q640,901.5 634,899 Q629,896 625,896 Q621.25,896.5 621.25,900" stroke-width="1.6"/>
<polyline points="621.25,847.5 621.25,926"/>
<polyline points="621.25,931 621.25,965"/>
<rect x="625" y="855" width="15" height="27"/>
<polyline points="259.25,981.25 259.25,1132"/>
<polyline points="497.5,981.25 497.5,1132"/>
<polyline points="259.25,986.25 360,986.25"/>
<polyline points="397,986.25 497.5,986.25"/>
<polygon class="a" points="259.25,986.25 271.75,984.35 271.75,988.15"/>
<polygon class="a" points="497.5,986.25 485.00,988.15 485.00,984.35"/>
<text x="361.25" y="994.5" font-size="22.3" textLength="33" lengthAdjust="spacingAndGlyphs">6.40</text>
<polyline points="304.25,1006 304.25,1154"/>
<polyline points="453,1006 453,1154"/>
<polyline points="304.25,1008.75 360,1008.75"/>
<polyline points="397,1008.75 453,1008.75"/>
<polygon class="a" points="304.25,1008.75 316.75,1006.85 316.75,1010.65"/>
<polygon class="a" points="453,1008.75 440.50,1010.65 440.50,1006.85"/>
<text x="361.25" y="1017.5" font-size="22.3" textLength="33" lengthAdjust="spacingAndGlyphs">4.00</text>
<polyline points="329.5,1028.75 329.5,1073"/>
<polyline points="425.75,1028.75 425.75,1076"/>
<polyline points="329.5,1031.25 360,1031.25"/>
<polyline points="397,1031.25 425.75,1031.25"/>
<polygon class="a" points="329.5,1031.25 342.00,1029.35 342.00,1033.15"/>
<polygon class="a" points="425.75,1031.25 413.25,1033.15 413.25,1029.35"/>
<text x="361.25" y="1040.25" font-size="22.3" textLength="33" lengthAdjust="spacingAndGlyphs">2.60</text>
<text x="353" y="1064.5" font-size="22.3" textLength="34.5" lengthAdjust="spacingAndGlyphs">0.40</text>
<polyline points="388,1055.75 418.75,1055.75"/>
<polygon class="a" points="418.75,1055.75 406.25,1057.65 406.25,1053.85"/>
<polyline points="418.75,1051 418.75,1080"/>
<polyline points="433.75,1051 433.75,1080"/>
<polygon class="a" points="433.75,1055.75 446.25,1053.85 446.25,1057.65"/>
<polyline points="433.75,1055.75 463.75,1055.75"/>
<text x="263.75" y="1087" font-size="22.3" textLength="35" lengthAdjust="spacingAndGlyphs">0.65</text>
<polyline points="298.75,1078.25 329.5,1078.25"/>
<polygon class="a" points="329.5,1078.25 317.00,1080.15 317.00,1076.35"/>
<polygon class="a" points="353.75,1078.25 366.25,1076.35 366.25,1080.15"/>
<polyline points="353.75,1078.25 383.75,1078.25"/>
<polyline points="353.75,1076 353.75,1082"/>
<text x="256.25" y="1109" font-size="22.3" textLength="32.5" lengthAdjust="spacingAndGlyphs">Pin1</text>
<polyline points="288.75,1100 321.25,1100"/>
<polygon class="a" points="321.25,1100 308.75,1101.90 308.75,1098.10"/>
<text x="459.5" y="1126" font-size="22.3" textLength="35.5" lengthAdjust="spacingAndGlyphs">Pin5</text>
<polyline points="433.75,1118 459,1118"/>
<polygon class="a" points="433.75,1118 446.25,1116.10 446.25,1119.90"/>
<rect x="322.4" y="1082" width="15.2" height="77.75" fill="url(#h3)"/>
<polyline points="330,1076 330,1166" stroke-width="1.1" stroke-dasharray="16 3"/>
<rect x="346.65" y="1082" width="15.2" height="77.75" fill="url(#h3)"/>
<polyline points="354.25,1076 354.25,1166" stroke-width="1.1" stroke-dasharray="16 3"/>
<rect x="370.9" y="1082" width="15.2" height="77.75" fill="url(#h3)"/>
<polyline points="378.5,1076 378.5,1166" stroke-width="1.1" stroke-dasharray="16 3"/>
<rect x="395.15" y="1082" width="15.2" height="77.75" fill="url(#h3)"/>
<polyline points="402.75,1076 402.75,1166" stroke-width="1.1" stroke-dasharray="16 3"/>
<rect x="419.4" y="1082" width="15.2" height="77.75" fill="url(#h3)"/>
<polyline points="427,1076 427,1166" stroke-width="1.1" stroke-dasharray="16 3"/>
<polyline points="378.5,1166 378.5,1348" stroke-dasharray="26 4 6 4"/>
<polyline points="240,1128.75 516.25,1128.75" stroke-dasharray="20 4"/>
<rect x="233.75" y="1132" width="51.25" height="36.75" fill="url(#h3)"/>
<rect x="472.5" y="1132" width="51.25" height="36.75" fill="url(#h3b)"/>
<polyline points="259.25,1132 259.25,1175" stroke-dasharray="10 3.5"/>
<polyline points="497.5,1132 497.5,1178" stroke-dasharray="10 3.5"/>
<path d="M245,1140 Q245,1130 254,1131 V1140 Q250,1142 247,1138" stroke-width="1.8"/>
<path d="M512,1140 Q512,1130 503,1131 V1140 Q507,1142 510,1138" stroke-width="1.8"/>
<polyline points="200,1151.25 286,1151.25"/>
<polyline points="470,1151.25 527.5,1151.25"/>
<circle cx="304.25" cy="1154.5" r="11" stroke-width="1.6"/>
<circle cx="453" cy="1154.5" r="11" stroke-width="1.6"/>
<circle cx="304.25" cy="1154.5" r="0.9" fill="#000"/>
<polyline points="315,1161 340,1175"/>
<polygon class="a" points="314,1160.3 325.85,1164.70 324.01,1168.02"/>
<text transform="translate(337.319 1183.34) rotate(27)" font-size="20.5" textLength="46" lengthAdjust="spacingAndGlyphs">ø0.60</text>
<path d="M254.5,1213.25 A18.75,18.75 0 0 1 292,1213.25 V1255.75 A18.75,18.75 0 0 1 254.5,1255.75 Z M264.5,1214.0 V1255.75 A8.0,8.0 0 0 0 280.5,1255.75 V1214.0 A8.0,8.0 0 0 0 264.5,1214.0 Z" stroke-width="1.6" fill="url(#h3)" fill-rule="evenodd"/>
<path d="M465.75,1212.875 A18.375,18.375 0 0 1 502.5,1212.875 V1256.625 A18.375,18.375 0 0 1 465.75,1256.625 Z M476.25,1213.5 V1256.25 A7.5,7.5 0 0 0 491.25,1256.25 V1213.5 A7.5,7.5 0 0 0 476.25,1213.5 Z" stroke-width="1.6" fill="url(#h3b)" fill-rule="evenodd"/>
<rect x="298.5" y="1199.5" width="71.5" height="71" stroke-width="1.6" fill="url(#h3)"/>
<rect x="387.5" y="1199.5" width="71.25" height="71" stroke-width="1.6" fill="url(#h3)"/>
<path d="M277.5,1296 V1229 Q277.5,1223.75 283,1223.75 H297 Q302,1223.75 302,1229 V1296 Z"/>
<polyline points="277.5,1277.5 302,1277.5" stroke-dasharray="6 2"/>
<polyline points="277.5,1281.5 302,1281.5" stroke-dasharray="6 2"/>
<polyline points="277.5,1295 302,1295" stroke-dasharray="6 2"/>
<path d="M479.5,1296 V1229 Q479.5,1223.75 474.0,1223.75 H460.0 Q455.0,1223.75 455.0,1229 V1296 Z"/>
<polyline points="479.5,1277.5 455,1277.5" stroke-dasharray="6 2"/>
<polyline points="479.5,1281.5 455,1281.5" stroke-dasharray="6 2"/>
<polyline points="479.5,1295 455,1295" stroke-dasharray="6 2"/>
<polyline points="240,1128.75 240,1315 516.25,1315 516.25,1128.75" stroke-dasharray="10 3.5"/>
<polyline points="255.5,1135 255.5,1315" stroke-dasharray="10 3.5"/>
<polyline points="501.75,1178 501.75,1315" stroke-dasharray="10 3.5"/>
<polyline points="501.75,1178.5 516.25,1178.5" stroke-dasharray="10 3.5"/>
<text transform="translate(233.5 1113.75) rotate(-90)" font-size="22.3" textLength="32.5" lengthAdjust="spacingAndGlyphs">1.00</text>
<polyline points="223.75,1114 223.75,1168.75"/>
<polygon class="a" points="223.75,1131.5 225.65,1144.00 221.85,1144.00"/>
<polygon class="a" points="223.75,1168.75 221.85,1156.25 225.65,1156.25"/>
<polyline points="220,1131.5 233.75,1131.5"/>
<text transform="translate(205.25 1132.5) rotate(-90)" font-size="22.3" textLength="35" lengthAdjust="spacingAndGlyphs">2.25</text>
<polyline points="195,1132.5 195,1235"/>
<polygon class="a" points="195,1151.25 196.90,1163.75 193.10,1163.75"/>
<polygon class="a" points="195,1235 193.10,1222.50 196.90,1222.50"/>
<polyline points="191.25,1151.25 233.75,1151.25"/>
<polyline points="191.25,1235 277,1235" stroke-dasharray="22 4"/>
<polyline points="98.75,1168.75 233.75,1168.75"/>
<polyline points="102.5,1168.75 102.5,1210"/>
<polyline points="102.5,1247 102.5,1288.75"/>
<polygon class="a" points="102.5,1168.75 104.40,1181.25 100.60,1181.25"/>
<polygon class="a" points="102.5,1288.75 100.60,1276.25 104.40,1276.25"/>
<text transform="translate(111.5 1246.25) rotate(-90)" font-size="22.3" textLength="35" lengthAdjust="spacingAndGlyphs">3.20</text>
<polyline points="128.75,1194 254.5,1194"/>
<polyline points="128,1274.25 262,1274.25"/>
<polyline points="132.5,1194 132.5,1216"/>
<polyline points="132.5,1253 132.5,1274.25"/>
<polygon class="a" points="132.5,1194 134.40,1206.50 130.60,1206.50"/>
<polygon class="a" points="132.5,1274.25 130.60,1261.75 134.40,1261.75"/>
<text transform="translate(141.5 1252.5) rotate(-90)" font-size="22.3" textLength="35" lengthAdjust="spacingAndGlyphs">2.15</text>
<polyline points="161.25,1205 264.5,1205"/>
<polyline points="161.25,1263.5 264.5,1263.5"/>
<polyline points="165,1177.5 165,1205"/>
<polygon class="a" points="165,1205 163.10,1192.50 166.90,1192.50"/>
<polyline points="165,1263.5 165,1293"/>
<polygon class="a" points="165,1263.5 166.90,1276.00 163.10,1276.00"/>
<text transform="translate(174 1251.25) rotate(-90)" font-size="22.3" textLength="33.75" lengthAdjust="spacingAndGlyphs">1.55</text>
<polyline points="98,1288.75 591.25,1288.75"/>
<text x="18.75" y="1340.25" font-size="22.3" textLength="90" lengthAdjust="spacingAndGlyphs">PCB EDGE</text>
<polyline points="110,1331.25 182,1331.25 196.5,1291"/>
<polygon class="a" points="197,1289.5 194.51,1301.90 190.94,1300.60"/>
<polyline points="436,1082 636.25,1082"/>
<text transform="translate(568.5 1096.25) rotate(-90)" font-size="22.3" textLength="33.75" lengthAdjust="spacingAndGlyphs">0.88</text>
<polyline points="559.25,1098.75 559.25,1145"/>
<polygon class="a" points="559.25,1145 557.35,1132.50 561.15,1132.50"/>
<polyline points="523.75,1145 562.5,1145"/>
<polyline points="502.5,1177.25 562.5,1177.25"/>
<polyline points="559.25,1177.25 559.25,1207.5"/>
<polygon class="a" points="559.25,1177.25 561.15,1189.75 557.35,1189.75"/>
<polyline points="435,1160 602.5,1160"/>
<polyline points="599.25,1082 599.25,1175"/>
<polygon class="a" points="599.25,1082 601.15,1094.50 597.35,1094.50"/>
<polygon class="a" points="599.25,1160 597.35,1147.50 601.15,1147.50"/>
<text transform="translate(609 1212.5) rotate(-90)" font-size="22.3" textLength="36" lengthAdjust="spacingAndGlyphs">2.10</text>
<polyline points="632.5,1082 632.5,1153.75"/>
<polyline points="632.5,1192.5 632.5,1235"/>
<polygon class="a" points="632.5,1082 634.40,1094.50 630.60,1094.50"/>
<polygon class="a" points="632.5,1235 630.60,1222.50 634.40,1222.50"/>
<text transform="translate(641.5 1191.25) rotate(-90)" font-size="22.3" textLength="36" lengthAdjust="spacingAndGlyphs">4.10</text>
<polyline points="483.75,1235 541,1235" stroke-dasharray="22 4"/>
<polyline points="541,1235 636.25,1235"/>
<polyline points="588.25,1235 588.25,1303.75"/>
<polygon class="a" points="588.25,1235 590.15,1247.50 586.35,1247.50"/>
<polygon class="a" points="588.25,1288.75 586.35,1276.25 590.15,1276.25"/>
<text transform="translate(597 1340) rotate(-90)" font-size="22.3" textLength="35" lengthAdjust="spacingAndGlyphs">1.45</text>
<text x="409.5" y="1197.5" font-size="22.3" textLength="35" lengthAdjust="spacingAndGlyphs">0.45</text>
<polyline points="444.5,1189.25 474.5,1189.25"/>
<polygon class="a" points="474.5,1189.25 462.00,1191.15 462.00,1187.35"/>
<polyline points="474.5,1185 474.5,1197.5"/>
<polyline points="492.5,1185 492.5,1197.5"/>
<polygon class="a" points="492.5,1189.25 505.00,1187.35 505.00,1191.15"/>
<polyline points="492.5,1189.25 521,1189.25"/>
<polyline points="388.5,1273 388.5,1370.5"/>
<polyline points="458.5,1273 458.5,1370.5"/>
<text x="335" y="1375.5" font-size="22.3" textLength="36" lengthAdjust="spacingAndGlyphs">1.90</text>
<polyline points="371,1367 458.5,1367"/>
<polygon class="a" points="388.5,1367 401.00,1365.10 401.00,1368.90"/>
<polygon class="a" points="458.5,1367 446.00,1368.90 446.00,1365.10"/>
<polyline points="272.5,1276 272.5,1394"/>
<polyline points="483.5,1276 483.5,1394"/>
<polyline points="272.5,1390.5 359,1390.5"/>
<polyline points="397,1390.5 483.5,1390.5"/>
<polygon class="a" points="272.5,1390.5 285.00,1388.60 285.00,1392.40"/>
<polygon class="a" points="483.5,1390.5 471.00,1392.40 471.00,1388.60"/>
<text x="360" y="1400.5" font-size="22.3" textLength="36" lengthAdjust="spacingAndGlyphs">5.67</text>
</g>
</svg>
</body></html>
